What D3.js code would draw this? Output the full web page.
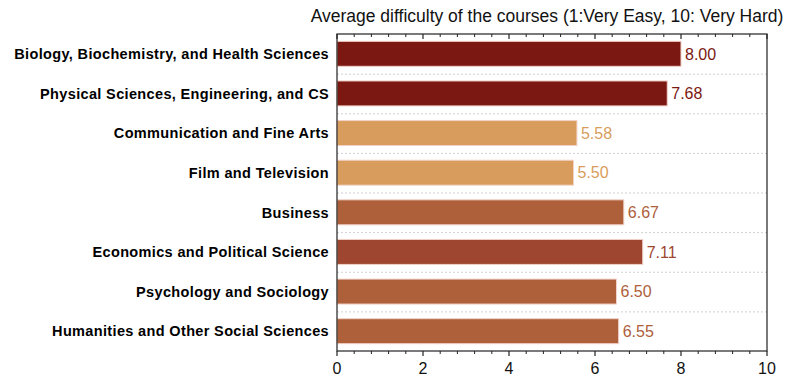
<!DOCTYPE html>
<html>
<head>
<meta charset="utf-8">
<script src="https://cdn.jsdelivr.net/npm/d3@7"></script>
<style>
  html, body { margin: 0; padding: 0; background: #fff; }
  svg { display: block; font-family: "Liberation Sans", Arial, Helvetica, sans-serif; }
</style>
</head>
<body>
<svg id="chart" width="796" height="379"></svg>
<script>
// Course fields and their average difficulty ratings
const categories = [
  "Biology, Biochemistry, and Health Sciences",
  "Physical Sciences, Engineering, and CS",
  "Communication and Fine Arts",
  "Film and Television",
  "Business",
  "Economics and Political Science",
  "Psychology and Sociology",
  "Humanities and Other Social Sciences"
];
const values = [8.00, 7.68, 5.58, 5.50, 6.67, 7.11, 6.50, 6.55];
const barColors = ["#7b1812", "#7b1812", "#d89d5c", "#d89d5c", "#ae603b", "#9e4630", "#ae603b", "#ae603b"];
const xTicks = [0, 2, 4, 6, 8, 10];
const titleText = "Average difficulty of the courses (1:Very Easy, 10: Very Hard)";

const svg = d3.select("#chart");
const margin = { top: 34, right: 29, bottom: 28, left: 337 };
const W = 796, H = 379;
const innerW = W - margin.left - margin.right;
const innerH = H - margin.top - margin.bottom;

const x = d3.scaleLinear().domain([0, 10]).range([0, innerW]);
const y = d3.scaleBand().domain(categories).range([0, innerH]).paddingInner(0.37).paddingOuter(0.185);
const band = d3.scaleBand().domain(categories).range([0, innerH]);

const g = svg.append("g").attr("transform", `translate(${margin.left},${margin.top})`);

// dotted separators between category rows
g.selectAll("line.sep")
  .data(categories.slice(1))
  .join("line")
  .attr("class", "sep")
  .attr("x1", 0).attr("x2", innerW)
  .attr("y1", d => band(d) + 0.5).attr("y2", d => band(d) + 0.5)
  .attr("stroke", "#d0d0d0")
  .attr("stroke-width", 1)
  .attr("stroke-dasharray", "2,2");

// bars
g.selectAll("rect.bar")
  .data(values)
  .join("rect")
  .attr("class", "bar")
  .attr("x", 0)
  .attr("y", (d, i) => y(categories[i]))
  .attr("width", d => x(d))
  .attr("height", y.bandwidth())
  .attr("fill", (d, i) => barColors[i])
  .attr("stroke", "#f2d2c8")
  .attr("stroke-width", 1);

// value labels
g.selectAll("text.val")
  .data(values)
  .join("text")
  .attr("class", "val")
  .attr("x", d => x(d) + 4)
  .attr("y", (d, i) => y(categories[i]) + y.bandwidth() / 2)
  .attr("dy", "0.36em")
  .attr("fill", (d, i) => barColors[i])
  .attr("font-size", 16)
  .text(d => d.toFixed(2));

// category labels
g.selectAll("text.cat")
  .data(categories)
  .join("text")
  .attr("class", "cat")
  .attr("x", -8)
  .attr("y", d => y(d) + y.bandwidth() / 2)
  .attr("dy", "0.36em")
  .attr("text-anchor", "end")
  .attr("font-weight", "bold")
  .attr("font-size", 14.5)
  .attr("letter-spacing", "0.35px")
  .attr("fill", "#000")
  .text(d => d);

// frame
g.append("rect")
  .attr("x", 0).attr("y", 0)
  .attr("width", innerW).attr("height", innerH)
  .attr("fill", "none")
  .attr("stroke", "#222")
  .attr("stroke-width", 1.2);

// minor ticks every 0.4
const minor = d3.range(0, 10.0001, 0.4).map(v => +v.toFixed(1)).filter(v => !xTicks.includes(v));

// bottom axis
const bottomAxis = g.append("g").attr("transform", `translate(0,${innerH})`);
bottomAxis.selectAll("line.maj").data(xTicks).join("line")
  .attr("class", "maj")
  .attr("x1", d => x(d)).attr("x2", d => x(d))
  .attr("y1", 0).attr("y2", 5)
  .attr("stroke", "#222").attr("stroke-width", 1.2);
bottomAxis.selectAll("line.min").data(minor).join("line")
  .attr("class", "min")
  .attr("x1", d => x(d)).attr("x2", d => x(d))
  .attr("y1", 0).attr("y2", 3)
  .attr("stroke", "#222").attr("stroke-width", 1);
bottomAxis.selectAll("text").data(xTicks).join("text")
  .attr("x", d => x(d))
  .attr("y", 23)
  .attr("text-anchor", "middle")
  .attr("font-size", 16)
  .attr("fill", "#111")
  .text(d => d);

// top inner ticks
const topTicks = g.append("g");
topTicks.selectAll("line.maj").data(xTicks).join("line")
  .attr("class", "maj")
  .attr("x1", d => x(d)).attr("x2", d => x(d))
  .attr("y1", 0).attr("y2", 5)
  .attr("stroke", "#222").attr("stroke-width", 1.2);
topTicks.selectAll("line.min").data(minor).join("line")
  .attr("class", "min")
  .attr("x1", d => x(d)).attr("x2", d => x(d))
  .attr("y1", 0).attr("y2", 3)
  .attr("stroke", "#222").attr("stroke-width", 1);

// title
svg.append("text")
  .attr("x", 547)
  .attr("y", 22)
  .attr("text-anchor", "middle")
  .attr("font-size", 17.5)
  .attr("fill", "#111")
  .text(titleText);
</script>
</body>
</html>
